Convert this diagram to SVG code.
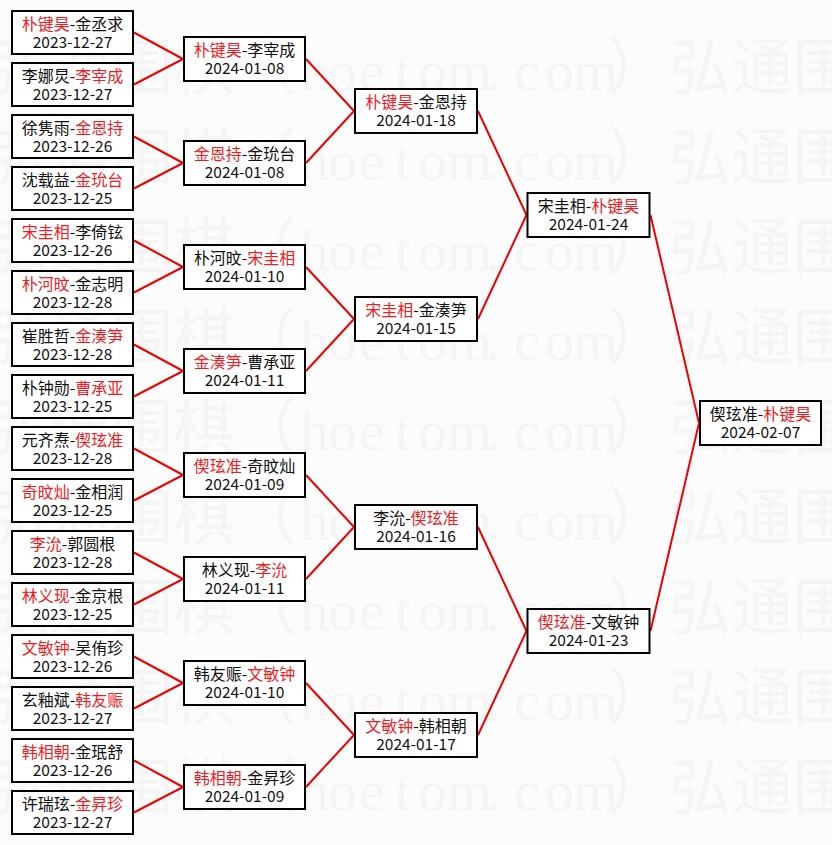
<svg xmlns="http://www.w3.org/2000/svg" width="832" height="845" viewBox="0 0 832 845">
<style>
.bg{fill:#fcfcfc}
.wm{fill:#f5f5f5;font-family:"Noto Sans CJK SC",sans-serif;font-size:62px}
.wl{font-family:"Liberation Serif",serif;font-size:58px}
.box{fill:#fff;stroke:#000;stroke-width:2}
.t{font-family:"Noto Sans CJK SC",sans-serif;font-size:16px;fill:#111;text-anchor:middle}
.d{font-family:"Noto Sans CJK SC",sans-serif;font-size:15.5px;fill:#111;text-anchor:middle}
.r{fill:#ee1c24}
.ln{stroke:#ee0000;stroke-width:2;fill:none}
</style>
<defs>
<text id="wmrow" class="wm"><tspan x="-13 49 111 173 235">弘通围棋（</tspan><tspan class="wl" x="300 328 359 395 418 447 486 514 545 573">hoetom.com</tspan><tspan x="607 669 731 793">）弘通围</tspan></text>
</defs>
<rect class="bg" x="0" y="0" width="832" height="845"/>
<g id="watermark">
<use href="#wmrow" y="90"/>
<use href="#wmrow" y="180"/>
<use href="#wmrow" y="270"/>
<use href="#wmrow" y="360"/>
<use href="#wmrow" y="450"/>
<use href="#wmrow" y="540"/>
<use href="#wmrow" y="630"/>
<use href="#wmrow" y="720"/>
<use href="#wmrow" y="810"/>
</g>
<g id="connectors">
<path class="ln" d="M134 32.5L183 59M134 84.5L183 59M134 136.5L183 163M134 188.5L183 163M134 240.5L183 267M134 292.5L183 267M134 344.5L183 371M134 396.5L183 371M134 448.5L183 475M134 500.5L183 475M134 552.5L183 579M134 604.5L183 579M134 656.5L183 683M134 708.5L183 683M134 760.5L183 787M134 812.5L183 787"/>
<path class="ln" d="M306 59L354 111M306 163L354 111M306 267L354 319M306 371L354 319M306 475L354 527M306 579L354 527M306 683L354 735M306 787L354 735"/>
<path class="ln" d="M478 111L526.5 215M478 319L526.5 215M478 527L526.5 631M478 735L526.5 631"/>
<path class="ln" d="M650.5 215L699 423M650.5 631L699 423"/>
</g>
<g id="r1-1"><rect class="box" x="12" y="11" width="121" height="43"/><text class="t" x="72.5" y="30"><tspan class="r">朴键昊</tspan>-金丞求</text><text class="d" x="72.5" y="48">2023-12-27</text></g>
<g id="r1-2"><rect class="box" x="12" y="63" width="121" height="43"/><text class="t" x="72.5" y="82">李娜炅-<tspan class="r">李宰成</tspan></text><text class="d" x="72.5" y="100">2023-12-27</text></g>
<g id="r1-3"><rect class="box" x="12" y="115" width="121" height="43"/><text class="t" x="72.5" y="134">徐隽雨-<tspan class="r">金恩持</tspan></text><text class="d" x="72.5" y="152">2023-12-26</text></g>
<g id="r1-4"><rect class="box" x="12" y="167" width="121" height="43"/><text class="t" x="72.5" y="186">沈载益-<tspan class="r">金玧台</tspan></text><text class="d" x="72.5" y="204">2023-12-25</text></g>
<g id="r1-5"><rect class="box" x="12" y="219" width="121" height="43"/><text class="t" x="72.5" y="238"><tspan class="r">宋圭相</tspan>-李倚铉</text><text class="d" x="72.5" y="256">2023-12-26</text></g>
<g id="r1-6"><rect class="box" x="12" y="271" width="121" height="43"/><text class="t" x="72.5" y="290"><tspan class="r">朴河旼</tspan>-金志明</text><text class="d" x="72.5" y="308">2023-12-28</text></g>
<g id="r1-7"><rect class="box" x="12" y="323" width="121" height="43"/><text class="t" x="72.5" y="342">崔胜哲-<tspan class="r">金湊笋</tspan></text><text class="d" x="72.5" y="360">2023-12-28</text></g>
<g id="r1-8"><rect class="box" x="12" y="375" width="121" height="43"/><text class="t" x="72.5" y="394">朴钟勋-<tspan class="r">曹承亚</tspan></text><text class="d" x="72.5" y="412">2023-12-25</text></g>
<g id="r1-9"><rect class="box" x="12" y="427" width="121" height="43"/><text class="t" x="72.5" y="446">元齐焘-<tspan class="r">偰玹准</tspan></text><text class="d" x="72.5" y="464">2023-12-28</text></g>
<g id="r1-10"><rect class="box" x="12" y="479" width="121" height="43"/><text class="t" x="72.5" y="498"><tspan class="r">奇旼灿</tspan>-金相润</text><text class="d" x="72.5" y="516">2023-12-25</text></g>
<g id="r1-11"><rect class="box" x="12" y="531" width="121" height="43"/><text class="t" x="72.5" y="550"><tspan class="r">李沇</tspan>-郭圆根</text><text class="d" x="72.5" y="568">2023-12-28</text></g>
<g id="r1-12"><rect class="box" x="12" y="583" width="121" height="43"/><text class="t" x="72.5" y="602"><tspan class="r">林义现</tspan>-金京根</text><text class="d" x="72.5" y="620">2023-12-25</text></g>
<g id="r1-13"><rect class="box" x="12" y="635" width="121" height="43"/><text class="t" x="72.5" y="654"><tspan class="r">文敏钟</tspan>-吴侑珍</text><text class="d" x="72.5" y="672">2023-12-26</text></g>
<g id="r1-14"><rect class="box" x="12" y="687" width="121" height="43"/><text class="t" x="72.5" y="706">玄釉斌-<tspan class="r">韩友赈</tspan></text><text class="d" x="72.5" y="724">2023-12-27</text></g>
<g id="r1-15"><rect class="box" x="12" y="739" width="121" height="43"/><text class="t" x="72.5" y="758"><tspan class="r">韩相朝</tspan>-金珉舒</text><text class="d" x="72.5" y="776">2023-12-26</text></g>
<g id="r1-16"><rect class="box" x="12" y="791" width="121" height="43"/><text class="t" x="72.5" y="810">许瑞玹-<tspan class="r">金昇珍</tspan></text><text class="d" x="72.5" y="828">2023-12-27</text></g>
<g id="r2-1"><rect class="box" x="184" y="37" width="121" height="44"/><text class="t" x="244.5" y="56"><tspan class="r">朴键昊</tspan>-李宰成</text><text class="d" x="244.5" y="74">2024-01-08</text></g>
<g id="r2-2"><rect class="box" x="184" y="141" width="121" height="44"/><text class="t" x="244.5" y="160"><tspan class="r">金恩持</tspan>-金玧台</text><text class="d" x="244.5" y="178">2024-01-08</text></g>
<g id="r2-3"><rect class="box" x="184" y="245" width="121" height="44"/><text class="t" x="244.5" y="264">朴河旼-<tspan class="r">宋圭相</tspan></text><text class="d" x="244.5" y="282">2024-01-10</text></g>
<g id="r2-4"><rect class="box" x="184" y="349" width="121" height="44"/><text class="t" x="244.5" y="368"><tspan class="r">金湊笋</tspan>-曹承亚</text><text class="d" x="244.5" y="386">2024-01-11</text></g>
<g id="r2-5"><rect class="box" x="184" y="453" width="121" height="44"/><text class="t" x="244.5" y="472"><tspan class="r">偰玹准</tspan>-奇旼灿</text><text class="d" x="244.5" y="490">2024-01-09</text></g>
<g id="r2-6"><rect class="box" x="184" y="557" width="121" height="44"/><text class="t" x="244.5" y="576">林义现-<tspan class="r">李沇</tspan></text><text class="d" x="244.5" y="594">2024-01-11</text></g>
<g id="r2-7"><rect class="box" x="184" y="661" width="121" height="44"/><text class="t" x="244.5" y="680">韩友赈-<tspan class="r">文敏钟</tspan></text><text class="d" x="244.5" y="698">2024-01-10</text></g>
<g id="r2-8"><rect class="box" x="184" y="765" width="121" height="44"/><text class="t" x="244.5" y="784"><tspan class="r">韩相朝</tspan>-金昇珍</text><text class="d" x="244.5" y="802">2024-01-09</text></g>
<g id="r3-1"><rect class="box" x="355" y="89" width="122" height="44"/><text class="t" x="416" y="108"><tspan class="r">朴键昊</tspan>-金恩持</text><text class="d" x="416" y="126">2024-01-18</text></g>
<g id="r3-2"><rect class="box" x="355" y="297" width="122" height="44"/><text class="t" x="416" y="316"><tspan class="r">宋圭相</tspan>-金湊笋</text><text class="d" x="416" y="334">2024-01-15</text></g>
<g id="r3-3"><rect class="box" x="355" y="505" width="122" height="44"/><text class="t" x="416" y="524">李沇-<tspan class="r">偰玹准</tspan></text><text class="d" x="416" y="542">2024-01-16</text></g>
<g id="r3-4"><rect class="box" x="355" y="713" width="122" height="44"/><text class="t" x="416" y="732"><tspan class="r">文敏钟</tspan>-韩相朝</text><text class="d" x="416" y="750">2024-01-17</text></g>
<g id="r4-1"><rect class="box" x="527.5" y="193" width="122" height="44"/><text class="t" x="588.5" y="212">宋圭相-<tspan class="r">朴键昊</tspan></text><text class="d" x="588.5" y="230">2024-01-24</text></g>
<g id="r4-2"><rect class="box" x="527.5" y="609" width="122" height="44"/><text class="t" x="588.5" y="628"><tspan class="r">偰玹准</tspan>-文敏钟</text><text class="d" x="588.5" y="646">2024-01-23</text></g>
<g id="final"><rect class="box" x="700" y="401" width="121" height="44"/><text class="t" x="760.5" y="420">偰玹准-<tspan class="r">朴键昊</tspan></text><text class="d" x="760.5" y="438">2024-02-07</text></g>
</svg>
